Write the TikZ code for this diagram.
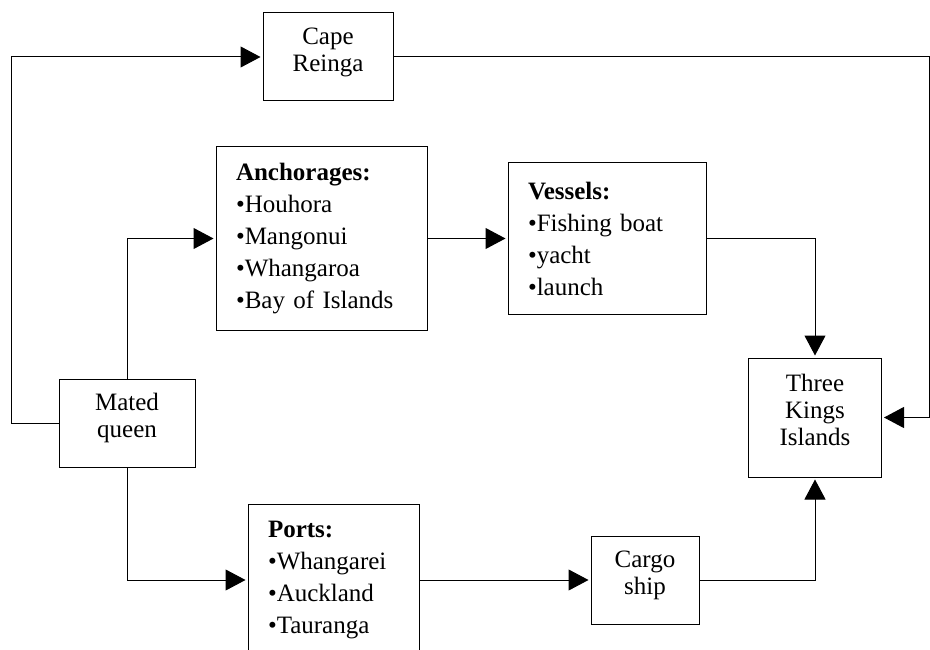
\documentclass[tikz,border=0pt]{standalone}
\usepackage{fontspec}
\setmainfont{Liberation Serif}
\usepackage{tikz}
\usetikzlibrary{arrows.meta, positioning}

\begin{document}
\begin{tikzpicture}[
    x=1pt, y=-1pt,
    place/.style={
        rectangle,
        draw=black,
        line width=1pt,
        inner sep=0pt,
        text depth=15pt,
        align=center,
        font=\fontsize{25}{27}\selectfont
    },
    listbox/.style={
        rectangle,
        draw=black,
        line width=1pt,
        inner xsep=20pt,
        inner ysep=0pt,
        align=left,
        font=\fontsize{25}{32}\selectfont
    },
    flow/.style={
        line width=1pt,
        -{Triangle[length=20pt, width=21pt]},
        shorten >=2pt
    }
]
    \clip (0, 0) rectangle (930, 650);

    % Places
    \node[place, minimum width=130pt, minimum height=88pt] (cape) at (328, 57) {Cape\\Reinga};
    \node[place, minimum width=136pt, minimum height=88pt] (queen) at (127, 423) {Mated\\queen};
    \node[place, minimum width=133pt, minimum height=119pt] (kings) at (815, 417.5) {Three\\Kings\\Islands};
    \node[place, minimum width=108pt, minimum height=88pt] (cargo) at (645, 580) {Cargo\\ship};

    % Lists
    \node[listbox, text width=171pt, minimum height=183pt] (anch) at (321.5, 238.5) {
        \textbf{Anchorages:}\\
        \textbullet{}Houhora\\
        \textbullet{}Mangonui\\
        \textbullet{}Whangaroa\\
        \textbullet{}Bay of Islands
    };

    \node[listbox, text width=158pt, minimum height=151pt] (vess) at (607, 238.5) {
        \textbf{Vessels:}\\
        \textbullet{}Fishing boat\\
        \textbullet{}yacht\\
        \textbullet{}launch
    };

    \node[listbox, text width=131pt, minimum height=152pt] (ports) at (333.5, 580) {
        \textbf{Ports:}\\
        \textbullet{}Whangarei\\
        \textbullet{}Auckland\\
        \textbullet{}Tauranga
    };

    % Outer routes
    \coordinate (lft) at (11, 0);
    \coordinate (rgt) at (929, 0);
    \draw[flow] (queen.west) -- (queen.west -| lft) |- (cape.west);
    \draw[flow] (cape.east) -- (cape.east -| rgt) |- (kings.east);

    % Northern route
    \draw[flow] (queen.north) |- (anch.west);
    \draw[flow] (anch.east) -- (vess.west);
    \draw[flow] (vess.east) -| (kings.north);

    % Southern route
    \draw[flow] (queen.south) |- (ports.west);
    \draw[flow] (ports.east) -- (cargo.west);
    \draw[flow] (cargo.east) -| (kings.south);
\end{tikzpicture}
\end{document}
